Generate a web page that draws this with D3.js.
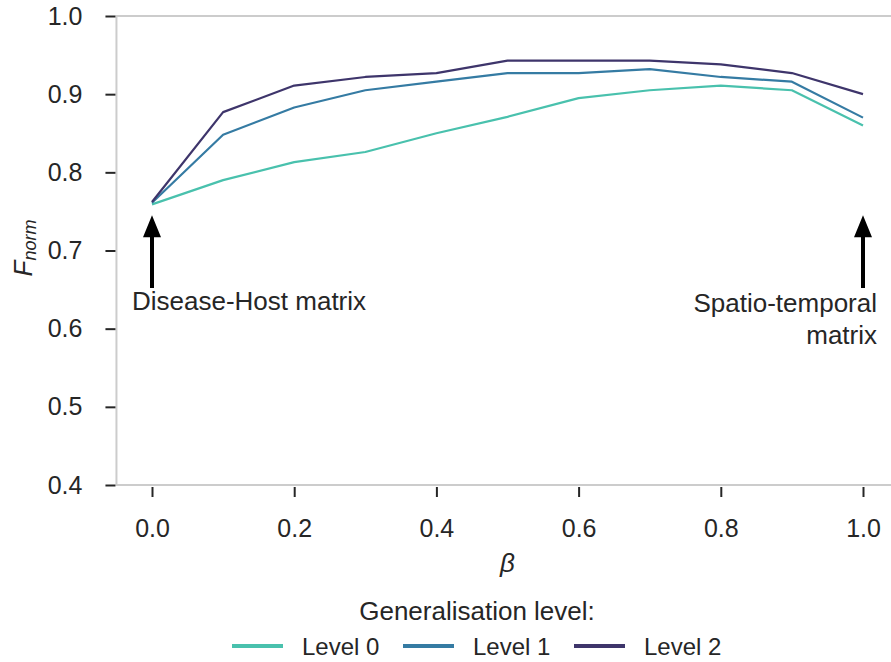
<!DOCTYPE html>
<html>
<head>
<meta charset="utf-8">
<script src="https://cdn.jsdelivr.net/npm/d3@7"></script>
<style>
  body { margin: 0; background: #fff; }
  svg text { font-family: "Liberation Sans", Arial, sans-serif; fill: #262626; }
</style>
</head>
<body>
<div id="chart"></div>
<script>
// chart data
var betas = [0.0, 0.1, 0.2, 0.3, 0.4, 0.5, 0.6, 0.7, 0.8, 0.9, 1.0];
var level0 = [0.759, 0.790, 0.813, 0.826, 0.850, 0.871, 0.895, 0.905, 0.911, 0.905, 0.860];
var level1 = [0.761, 0.848, 0.883, 0.905, 0.916, 0.927, 0.927, 0.932, 0.922, 0.916, 0.870];
var level2 = [0.762, 0.877, 0.911, 0.922, 0.927, 0.943, 0.943, 0.943, 0.938, 0.927, 0.900];
var seriesNames = ["Level 0", "Level 1", "Level 2"];
var seriesColors = ["#49c1ad", "#357ba3", "#3e356b"];
var xTicks = [0.0, 0.2, 0.4, 0.6, 0.8, 1.0];
var yTicks = [0.4, 0.5, 0.6, 0.7, 0.8, 0.9, 1.0];

var width = 891;
var height = 662;

var svg = d3.select("#chart").append("svg")
    .attr("width", width)
    .attr("height", height);

//scales (matplotlib style 5% margin on x)
var x = d3.scaleLinear().domain([0, 1]).range([152, 863]);
var y = d3.scaleLinear().domain([0.4, 1.0]).range([485, 16]);

var left = x(-0.05), right = x(1.05);

//frame, light grey, right spine falls outside the crop
svg.append("path")
    .attr("d", "M" + right + "," + y(1.0) + "H" + left + "V" + y(0.4) + "H" + right)
    .style("fill", "none")
    .style("stroke", "#cccccc")
    .style("stroke-width", 2);

//y axis
var yAxis = svg.append("g")
    .attr("transform", "translate(" + (left - 1) + ",0)")
    .call(d3.axisLeft(y).tickValues(yTicks).tickFormat(d3.format(".1f")).tickSize(10).tickPadding(23));
//x axis
var xAxis = svg.append("g")
    .attr("transform", "translate(0," + (y(0.4) + 2) + ")")
    .call(d3.axisBottom(x).tickValues(xTicks).tickFormat(d3.format(".1f")).tickSize(10).tickPadding(22));

[yAxis, xAxis].forEach(function(ax) {
    ax.select(".domain").remove();
    ax.selectAll(".tick line").style("stroke", "#262626").style("stroke-width", 2);
    ax.selectAll(".tick text")
        .style("font-size", "25px")
        .style("font-family", "'Liberation Sans', Arial, sans-serif")
        .style("fill", "#262626");
});

//lines
var line = d3.line()
    .x(function(d) { return x(d[0]); })
    .y(function(d) { return y(d[1]); });

var allSeries = [level0, level1, level2];
allSeries.forEach(function(vals, i) {
    svg.append("path")
        .datum(betas.map(function(b, j) { return [b, vals[j]]; }))
        .attr("d", line)
        .style("fill", "none")
        .style("stroke", seriesColors[i])
        .style("stroke-width", 2.2)
        .style("stroke-linejoin", "round");
});

//arrows with annotations
function arrow(beta, tip, tail) {
    var cx = x(beta), ty = y(tip), by = y(tail);
    var hw = 9, hl = 22, sw = 2;
    var p = "M" + cx + "," + ty
        + "L" + (cx + hw) + "," + (ty + hl)
        + "L" + (cx + sw) + "," + (ty + hl)
        + "L" + (cx + sw) + "," + by
        + "L" + (cx - sw) + "," + by
        + "L" + (cx - sw) + "," + (ty + hl)
        + "L" + (cx - hw) + "," + (ty + hl) + "Z";
    svg.append("path").attr("d", p).style("fill", "#000");
}
arrow(0.0, 0.745, 0.652);
arrow(1.0, 0.745, 0.652);

svg.append("text")
    .attr("x", x(0) - 20)
    .attr("y", y(0.624))
    .style("font-size", "26px")
    .text("Disease-Host matrix");

var rightNote = svg.append("text")
    .attr("x", x(1) + 14)
    .attr("y", y(0.621))
    .attr("text-anchor", "end")
    .style("font-size", "26px");
rightNote.append("tspan").attr("x", x(1) + 14).text("Spatio-temporal");
rightNote.append("tspan").attr("x", x(1) + 14).attr("dy", 32).text("matrix");

//axis labels
svg.append("text")
    .attr("x", (left + right) / 2)
    .attr("y", 572)
    .attr("text-anchor", "middle")
    .style("font-size", "26px")
    .style("font-style", "italic")
    .text("β");

var yLabel = svg.append("text")
    .attr("transform", "translate(32," + 248 + ") rotate(-90)")
    .attr("text-anchor", "middle")
    .style("font-size", "26px")
    .style("font-style", "italic");
yLabel.append("tspan").text("F");
yLabel.append("tspan").attr("dy", 4).style("font-size", "18px").text("norm");

//legend
var legendX = [232, 403, 574];
svg.append("text")
    .attr("x", 477)
    .attr("y", 620)
    .attr("text-anchor", "middle")
    .style("font-size", "26px")
    .text("Generalisation level:");

var legend = svg.selectAll(".legend-item")
    .data(seriesNames)
    .enter()
    .append("g")
    .attr("class", "legend-item")
    .attr("transform", function(d, i) { return "translate(" + legendX[i] + ",646)"; });
legend.append("line")
    .attr("x1", 0).attr("x2", 51)
    .style("stroke", function(d, i) { return seriesColors[i]; })
    .style("stroke-width", 4);
legend.append("text")
    .attr("x", 70)
    .attr("y", 9)
    .style("font-size", "24px")
    .text(function(d) { return d; });
</script>
</body>
</html>
